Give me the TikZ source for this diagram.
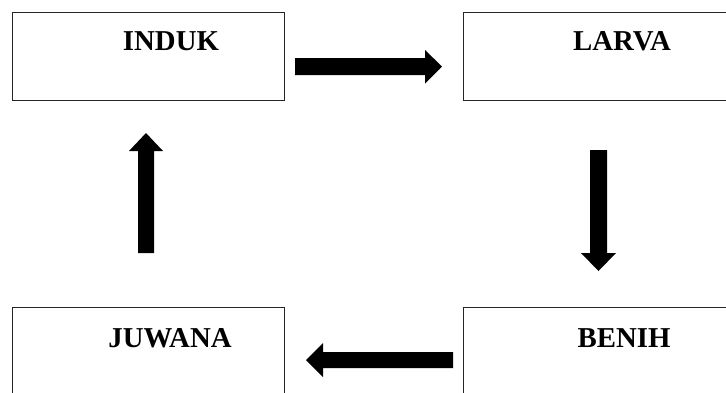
\documentclass[tikz,border=0pt]{standalone}
\usepackage{fontspec}
\setmainfont{Liberation Serif}
\begin{document}
\begin{tikzpicture}[x=1pt,y=-1pt,
  stagebox/.style={draw=black!85,line width=1pt,rectangle,inner sep=0pt},
  stagelabel/.style={font=\fontsize{28.8}{32}\selectfont\bfseries,anchor=base,inner sep=0pt},
  blockarrow/.style={fill=black}]
\useasboundingbox[clip] (0,0) rectangle (726,392);
\fill[white] (0,0) rectangle (726,392);
% stage boxes (right and bottom ones run past the page edge)
\node[stagebox,minimum width=272pt,minimum height=88pt] (induk)  at (148,56) {};
\node[stagebox,minimum width=267pt,minimum height=88pt] (larva)  at (596.5,56) {};
\node[stagebox,minimum width=272pt,minimum height=93pt] (juwana) at (148,353.5) {};
\node[stagebox,minimum width=267pt,minimum height=93pt] (benih)  at (596.5,353.5) {};
% stage names
\node[stagelabel] (tinduk)  at (171,50)  {INDUK};
\node[stagelabel] (tlarva)  at (622,50)  {LARVA};
\node[stagelabel] (tjuwana) at (170,347) {JUWANA};
\node[stagelabel] (tbenih)  at (624,347) {BENIH};
% block arrows of the cycle
\fill[blockarrow] (295,58) -- (425,58) -- (425,50) -- (442,66.5) -- (425,83.5) -- (425,75) -- (295,75) -- cycle;
\fill[blockarrow] (590,150) -- (607,150) -- (607,253) -- (616,253) -- (598.5,271) -- (581,253) -- (590,253) -- cycle;
\fill[blockarrow] (453,352) -- (453,368) -- (323,368) -- (323,377) -- (306,360) -- (323,343) -- (323,352) -- cycle;
\fill[blockarrow] (138,253) -- (154,253) -- (154,151) -- (163,151) -- (146,133) -- (129,151) -- (138,151) -- cycle;
\end{tikzpicture}
\end{document}
